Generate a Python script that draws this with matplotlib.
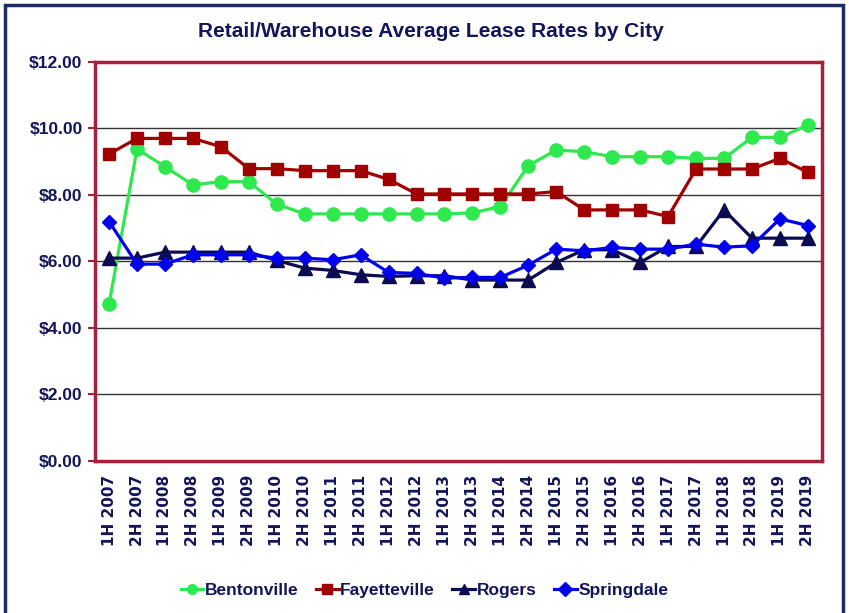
import matplotlib.pyplot as plt
from matplotlib.patches import Rectangle

# Half-year periods
periods = [f"{h} {y}" for y in range(2007, 2020) for h in ("1H", "2H")]

bentonville = [4.72, 9.38, 8.85, 8.30, 8.40, 8.40, 7.72, 7.43, 7.43, 7.43,
               7.43, 7.43, 7.43, 7.46, 7.65, 8.88, 9.35, 9.30, 9.15, 9.15,
               9.15, 9.10, 9.10, 9.73, 9.73, 10.10]
fayetteville = [9.23, 9.70, 9.70, 9.70, 9.45, 8.79, 8.79, 8.73, 8.73, 8.73,
                8.47, 8.03, 8.03, 8.03, 8.03, 8.03, 8.10, 7.55, 7.55, 7.55,
                7.35, 8.78, 8.78, 8.78, 9.10, 8.68]
rogers = [6.10, 6.10, 6.28, 6.28, 6.28, 6.28, 6.03, 5.80, 5.73, 5.60,
          5.55, 5.57, 5.57, 5.44, 5.44, 5.44, 5.97, 6.35, 6.35, 5.97,
          6.45, 6.45, 7.55, 6.70, 6.70, 6.70]
springdale = [7.20, 5.92, 5.92, 6.20, 6.20, 6.20, 6.10, 6.10, 6.05, 6.20,
              5.67, 5.64, 5.50, 5.52, 5.52, 5.89, 6.37, 6.32, 6.42, 6.37,
              6.37, 6.52, 6.43, 6.47, 7.28, 7.08]

yticks = [0, 2, 4, 6, 8, 10, 12]

navy = "#14145a"
crimson = "#a3233a"
label_font = "Liberation Sans"

fig = plt.figure(figsize=(8.49, 6.13), dpi=100)
ax = fig.add_axes([0.112, 0.248, 0.856, 0.651])

x = list(range(len(periods)))
ax.plot(x, bentonville, color="#2ee84e", lw=2.3, marker="o", ms=9.5, label="Bentonville", zorder=3)
ax.plot(x, fayetteville, color="#a00000", lw=2.3, marker="s", ms=9, label="Fayetteville", zorder=3)
ax.plot(x, rogers, color="#0c0a50", lw=2.3, marker="^", ms=9.5, label="Rogers", zorder=3)
ax.plot(x, springdale, color="#0000ee", lw=2.3, marker="D", ms=7.5, label="Springdale", zorder=4)

ax.set_xlim(-0.5, len(periods) - 0.5)
ax.set_ylim(0, 12)
ax.set_yticks(yticks)
ax.set_yticklabels([f"${v:.2f}" for v in yticks], family=label_font, fontsize=12.5,
                   fontweight="bold", color=navy)
ax.set_xticks(x)
ax.set_xticklabels(periods, rotation=90, family="DejaVu Sans", fontsize=11,
                   fontweight="bold", color=navy)
ax.tick_params(axis="y", length=5, width=1.5, color=crimson, pad=4)
ax.tick_params(axis="x", length=0, pad=10)

for v in yticks[1:-1]:
    ax.axhline(v, color="#333333", lw=1, zorder=1)

for s in ax.spines.values():
    s.set_color(crimson)
    s.set_linewidth(2.5)

fig.text(0.507, 0.948, "Retail/Warehouse Average Lease Rates by City", family=label_font,
         fontsize=15, fontweight="bold", color=navy, ha="center", va="center")

leg = fig.legend(loc="center", bbox_to_anchor=(0.50, 0.037), ncol=4, frameon=False,
                 handlelength=1.3, handletextpad=0.1, columnspacing=1.0,
                 prop={"family": label_font, "size": 12.5, "weight": "bold"})
for t in leg.get_texts():
    t.set_color(navy)
for h in leg.legend_handles:
    h.set_markersize(7)

# Outer chart border
fig.patches.append(Rectangle((0.006, -0.05), 0.987, 1.042, transform=fig.transFigure,
                             fill=False, edgecolor="#1c2b66", lw=2.5))

fig.savefig("out.png", dpi=100)
